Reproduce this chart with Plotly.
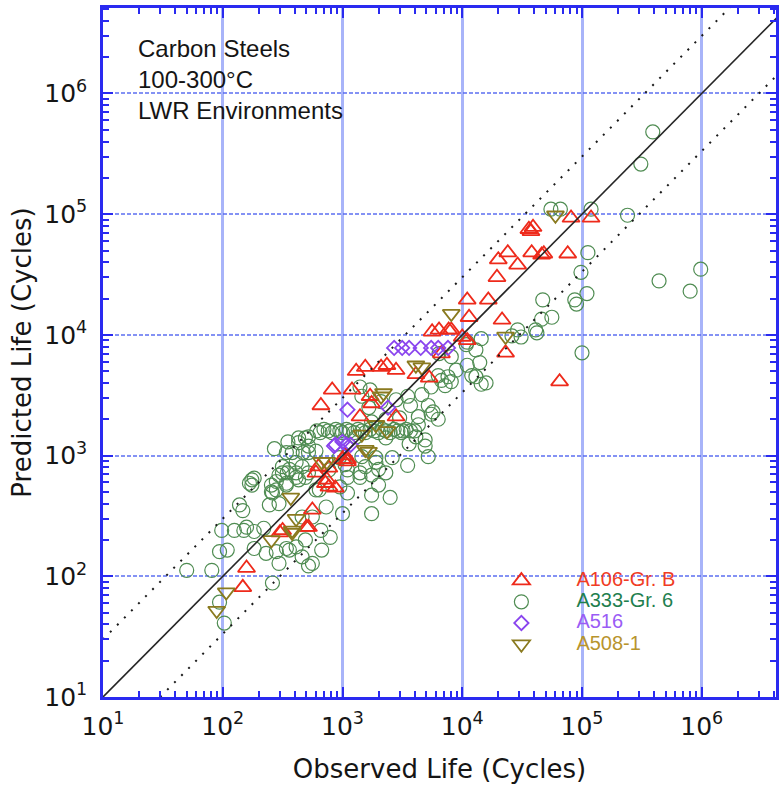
import plotly.graph_objects as go

# ---------------- data (observed life, predicted life) ----------------
a106_obs = [6.5e4, 3.6e4, 3.9e4, 3.75e4, 8.1e4, 1.19e5, 4.8e4, 7.6e4, 2.4e4, 2.0e4,
            2.9e4, 3.8e4, 4.6e4, 1.95e4, 1.1e4, 1.65e4, 2.15e4, 1.14e4, 6.4e3, 7.7e3,
            5.6e3, 8.1e3, 1.0e4, 1.1e4, 2.3e4, 6.7e3, 1.3e3, 1.55e3, 2.1e3, 2.35e3,
            2.8e3, 4.1e3, 5.3e3, 820, 660, 1.2e3, 1.7e3, 1.75e3, 2.8e3, 1.4e3,
            630, 720, 870, 600, 1.0e3, 1.1e3, 1.05e3, 158, 147, 316,
            500, 560, 770, 520, 300, 740, 770, 1.1e3]
a106_pred = [4.1e3, 7.5e4, 7.8e4, 7.2e4, 9.3e4, 9.3e4, 4.7e4, 4.7e4, 4.8e4, 4.2e4,
             3.8e4, 4.8e4, 4.6e4, 3.0e4, 1.95e4, 1.95e4, 1.33e4, 1.4e4, 1.1e4, 1.1e4,
             1.06e4, 1.1e4, 9.6e3, 9.0e3, 7.1e3, 7.0e3, 5.0e3, 5.4e3, 5.4e3, 5.6e3,
             5.1e3, 4.7e3, 4.4e3, 3.5e3, 2.6e3, 3.5e3, 3.1e3, 2.7e3, 2.1e3, 2.1e3,
             810, 590, 540, 720, 930, 930, 1.0e3, 117, 81, 240,
             255, 355, 550, 255, 230, 630, 790, 890]

a333_obs = [3.9e5, 3.1e5, 2.4e5, 1.19e5, 5.5e4, 6.6e4, 1.12e5, 9.8e4, 9.8e5, 4.4e5,
            8.0e5, 1.1e5, 8.7e4, 9.0e4, 4.7e4, 5.6e4, 4.6e4, 4.2e4, 1.0e5,
            2.9e4, 4.1e4, 3.1e4, 2.6e4, 1.44e4, 1.3e4, 1.2e4, 1.44e4, 6.3e3, 8.9e3,
            8.1e3, 1.4e4, 1.08e4, 1.58e4, 1.3e4, 1.1e4, 1.1e4, 6.4e3, 7.6e3, 6.7e3,
            8.1e3, 7.2e3, 5.5e3, 4.6e3, 3.5e3, 2.8e3, 3.7e3, 5.2e3, 5.5e3, 4.3e3,
            3.0e3, 2.3e3, 1.75e3, 1.4e3, 1.7e3, 1.45e3, 2.1e3, 1.66e3,
            520, 430, 350, 430, 520, 270, 380, 600, 360, 315,
            280, 340, 175, 255, 430, 520, 460, 1.75e3, 1.9e3, 1.55e3,
            1.4e3, 2.3e3, 2.0e3, 1.75e3, 2.5e3, 1.45e3, 1.3e3, 2.3e3,
            50, 81, 98, 94, 125, 150, 109, 138, 103, 94,
            183, 167, 245, 220, 230, 183, 280, 295, 260, 340,
            410, 490, 520, 460, 345, 280, 255, 295, 340, 410,
            410, 340, 470, 640, 730, 560, 460, 560, 660,
            5.7e3, 6.3e3, 4.1e3, 4.9e3, 3.6e3, 3.2e3, 2.0e3, 2.6e3, 1.4e3, 1.9e3,
            490, 520, 4.9e3, 5.2e3, 3.5e3, 4.3e3,
            175, 147, 158, 183, 295, 260, 490, 600, 950, 1.0e3,
            1.1e3, 770, 410, 315, 670, 360, 790, 1.1e3, 1.75e3,
            940, 1.05e3, 1.1e3,
            610, 650, 700, 760, 820, 880, 950, 1.0e3, 1.08e3, 1.15e3,
            1.25e3, 1.35e3, 1.45e3, 1.55e3, 1.7e3, 1.85e3, 2.0e3, 2.15e3, 2.3e3, 2.5e3,
            2.7e3, 2.9e3, 3.1e3, 3.4e3, 3.7e3, 4.0e3]
a333_pred = [4.8e5, 2.6e5, 9.8e4, 1.1e5, 1.1e5, 1.1e5, 4.8e4, 3.3e4, 3.5e4, 2.8e4,
             2.3e4, 2.2e4, 1.95e4, 1.8e4, 1.95e4, 1.4e4, 1.35e4, 1.04e4, 7.1e3,
             1.1e4, 1.1e4, 9.6e3, 9.8e3, 9.3e3, 7.5e3, 4.6e3, 3.9e3, 4.6e3, 5.1e3,
             6.6e3, 5.9e3, 8.3e3, 4.0e3, 4.5e3, 5.6e3, 8.7e3, 7.0e3, 4.5e3, 4.2e3,
             4.1e3, 3.8e3, 3.7e3, 3.2e3, 3.1e3, 2.9e3, 2.6e3, 2.6e3, 2.2e3, 2.1e3,
             2.05e3, 2.0e3, 1.9e3, 3.7e3, 3.5e3, 3.1e3, 2.8e3, 2.5e3,
             1.43e3, 1.4e3, 1.3e3, 1.28e3, 1.2e3, 1.14e3, 1.06e3, 1.09e3, 770, 720,
             610, 570, 630, 500, 630, 720, 810, 690, 880, 810,
             660, 720, 570, 470, 450, 980, 1.43e3, 1.4e3,
             112, 112, 240, 160, 240, 240, 165, 390, 41, 61,
             650, 590, 390, 250, 155, 170, 160, 128, 88, 170,
             175, 200, 122, 145, 720, 520, 570, 690, 590, 660,
             880, 1.06e3, 1.06e3, 520, 375, 310, 310, 128, 240,
             2.3e3, 2.0e3, 1.43e3, 1.2e3, 1.25e3, 1.6e3, 770, 960, 720, 960,
             1.4e3, 1.06e3, 1.35e3, 980, 830, 1.8e3,
             570, 350, 255, 235, 400, 490, 660, 520, 550, 330,
             760, 760, 720, 810, 165, 165, 210, 490, 330,
             960, 840, 660,
             1.6e3, 1.55e3, 1.65e3, 1.6e3, 1.55e3, 1.65e3, 1.6e3, 1.55e3, 1.65e3, 1.6e3,
             1.55e3, 1.65e3, 1.6e3, 1.55e3, 1.65e3, 1.6e3, 1.55e3, 1.65e3, 1.6e3, 1.55e3,
             1.65e3, 1.6e3, 1.55e3, 1.65e3, 1.6e3, 1.6e3]

a516_obs = [2.7e3, 3.15e3, 3.6e3, 4.5e3, 5.5e3, 6.3e3, 7.6e3, 1.1e3, 2.4e3, 870,
            1.0e3, 1.08e3, 1.17e3, 850]
a516_pred = [7.8e3, 7.8e3, 7.8e3, 7.8e3, 7.8e3, 7.8e3, 7.8e3, 2.4e3, 2.5e3, 1.23e3,
             1.3e3, 1.23e3, 1.23e3, 1.2e3]

a508_obs = [89, 107, 255, 380, 410, 370, 670, 740, 8.1e3, 4.1e3,
            4.6e3, 2.2e3, 1.9e3, 2.3e4, 1.45e3, 6.0e4, 1.55e3, 2.35e3, 1.65e3, 2.1e3,
            380]
a508_pred = [52, 74, 200, 240, 300, 450, 890, 890, 1.5e4, 5.6e3,
             5.4e3, 3.3e3, 1.8e3, 9.7e3, 1.5e3, 9.8e4, 1.12e3, 1.6e3, 1.08e3, 3.1e3,
             230]

diag = [10, 1e7]          # 1:1 line
band_factor = 3           # factor-of-3 scatter band

decades = [10, 100, 1e3, 1e4, 1e5, 1e6]
decade_text = ["10<sup>1</sup>", "10<sup>2</sup>", "10<sup>3</sup>",
               "10<sup>4</sup>", "10<sup>5</sup>", "10<sup>6</sup>"]
minor_vals = [m * 10 ** e for e in range(1, 7) for m in range(2, 10)]

# ---------------- styling ----------------
RED = "#ee2a1b"
GREEN = "#4f8c52"
PURPLE = "#8a45ee"
OLIVE = "#8a7a1f"
BLUE = "#2a2af0"
TXT = "#151515"

fig = go.Figure()
fig.add_trace(go.Scatter(
    x=a333_obs, y=a333_pred, mode="markers", legendrank=2,
    name="<span style='color:#1f7f4f;font-size:20px'>A333-Gr. 6</span>",
    marker=dict(symbol="circle-open", size=14, color=GREEN, line=dict(width=1.2))))
fig.add_trace(go.Scatter(
    x=a106_obs, y=a106_pred, mode="markers", legendrank=1,
    name="<span style='color:#f03c24;font-size:20px'>A106-Gr. B</span>",
    marker=dict(symbol="triangle-up-open", size=15, color=RED, line=dict(width=1.8))))
fig.add_trace(go.Scatter(
    x=a516_obs, y=a516_pred, mode="markers", legendrank=3,
    name="<span style='color:#9a5cf5;font-size:20px'>A516</span>",
    marker=dict(symbol="diamond-open", size=11, color=PURPLE, line=dict(width=1.8))))
fig.add_trace(go.Scatter(
    x=a508_obs, y=a508_pred, mode="markers", legendrank=4,
    name="<span style='color:#b8942c;font-size:20px'>A508-1</span>",
    marker=dict(symbol="triangle-down-open", size=15, color=OLIVE, line=dict(width=1.8))))

fig.add_trace(go.Scatter(x=diag, y=diag, mode="lines", showlegend=False,
                         line=dict(color="#262626", width=1.6)))
fig.add_trace(go.Scatter(x=diag, y=[v * band_factor for v in diag], mode="lines",
                         showlegend=False,
                         line=dict(color="#1a1a1a", width=2, dash="2px,8px")))
fig.add_trace(go.Scatter(x=[v * band_factor for v in diag], y=diag, mode="lines",
                         showlegend=False,
                         line=dict(color="#1a1a1a", width=2, dash="2px,8px")))

axis_common = dict(
    type="log", tickmode="array", tickvals=decades, ticktext=decade_text,
    ticks="inside", ticklen=10, tickwidth=2, tickcolor=BLUE,
    showline=True, linecolor=BLUE, linewidth=2.5, mirror="allticks",
    showgrid=True, zeroline=False,
    minor=dict(tickmode="array", tickvals=minor_vals, ticks="inside",
               ticklen=6, tickwidth=1.5, tickcolor=BLUE, showgrid=False),
    tickfont=dict(family="DejaVu Sans", size=25, color=TXT),
)

fig.update_xaxes(**axis_common, range=[1, 6.62],
                 gridcolor="rgba(110,130,245,0.6)", gridwidth=2.5, griddash="solid",
                 ticklabelstandoff=5,
                 title=dict(text="Observed Life (Cycles)", standoff=21,
                            font=dict(family="DejaVu Sans", size=26, color=TXT)))
fig.update_yaxes(**axis_common, range=[1, 6.708],
                 gridcolor="rgba(80,100,240,0.7)", gridwidth=1.5, griddash="4px,2px",
                 ticklabelstandoff=8,
                 title=dict(text="Predicted Life (Cycles)", standoff=6,
                            font=dict(family="DejaVu Sans", size=26, color=TXT)))

# white boxes hiding the grid behind the text block and the key
fig.add_shape(type="rect", xref="paper", yref="paper", layer="between",
              x0=(118 - 103) / 676, x1=(358 - 103) / 676,
              y0=(697 - 128) / 689, y1=(697 - 20) / 689,
              fillcolor="white", line=dict(width=0))
fig.add_shape(type="rect", xref="paper", yref="paper", layer="between",
              x0=(458 - 103) / 676, x1=(692 - 103) / 676,
              y0=(697 - 667) / 689, y1=(697 - 553) / 689,
              fillcolor="white", line=dict(width=0))

fig.add_annotation(xref="paper", yref="paper", x=(136 - 103) / 676, y=(697 - 80) / 689,
                   xanchor="left", yanchor="middle", align="left", showarrow=False,
                   text="Carbon Steels<br>100-300°C<br>LWR Environments",
                   font=dict(family="Liberation Sans, Arial", size=24, color=TXT))

fig.update_layout(
    width=780, height=786,
    margin=dict(l=103, r=1, t=8, b=89),
    paper_bgcolor="white", plot_bgcolor="white",
    showlegend=True,
    legend=dict(x=(468 - 103) / 676, y=(697 - 565) / 689, xanchor="left", yanchor="top",
                bgcolor="rgba(0,0,0,0)", borderwidth=0, itemwidth=100,
                font=dict(family="Liberation Sans, Arial", size=14, color=TXT),
                traceorder="normal"),
)

fig.write_html("out.html")
